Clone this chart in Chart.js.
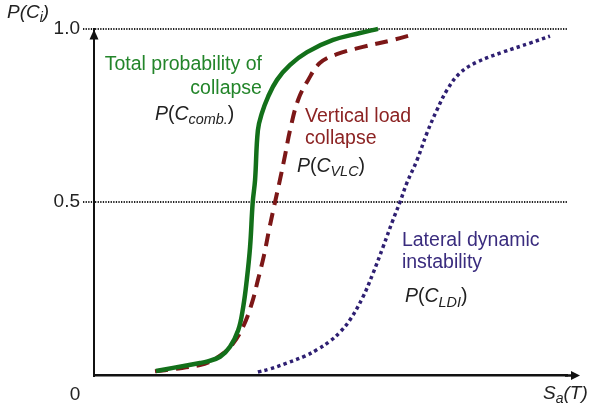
<!DOCTYPE html>
<html>
<head>
<meta charset="utf-8">
<script src="https://cdn.jsdelivr.net/npm/chart.js@4.4.1/dist/chart.umd.min.js"></script>
<style>
  html, body { margin: 0; padding: 0; background: #ffffff; }
  #wrap { width: 593px; height: 411px; }
</style>
</head>
<body>
<div id="wrap"><canvas id="c" width="593" height="411"></canvas></div>
<script>
// Fragility curves: probability of collapse vs spectral acceleration Sa(T)
const sa_total = [0.262, 0.334, 0.448, 0.477, 0.533, 0.575, 0.610, 0.631, 0.646, 0.660, 0.671, 0.681, 0.693, 0.710, 0.736, 0.774, 0.829, 0.901, 1.011, 1.125, 1.201];
const p_total  = [0.013, 0.022, 0.036, 0.040, 0.054, 0.083, 0.131, 0.198, 0.275, 0.371, 0.498, 0.563, 0.707, 0.756, 0.803, 0.852, 0.895, 0.932, 0.967, 0.987, 0.999];

const sa_vlc = [0.258, 0.342, 0.448, 0.490, 0.545, 0.588, 0.630, 0.668, 0.693, 0.719, 0.740, 0.761, 0.786, 0.808, 0.829, 0.863, 0.905, 0.956, 1.027, 1.137, 1.252, 1.336];
const p_vlc  = [0.012, 0.019, 0.030, 0.040, 0.063, 0.092, 0.140, 0.209, 0.275, 0.347, 0.419, 0.486, 0.563, 0.635, 0.707, 0.794, 0.851, 0.901, 0.926, 0.947, 0.965, 0.980];

const sa_ldi = [0.693, 0.744, 0.816, 0.892, 0.947, 0.998, 1.040, 1.082, 1.137, 1.180, 1.222, 1.264, 1.294, 1.323, 1.366, 1.408, 1.450, 1.493, 1.548, 1.619, 1.729, 1.844, 1.928];
const p_ldi  = [0.010, 0.019, 0.036, 0.056, 0.076, 0.099, 0.125, 0.160, 0.226, 0.295, 0.370, 0.448, 0.500, 0.555, 0.621, 0.699, 0.765, 0.823, 0.872, 0.903, 0.932, 0.958, 0.978];

const yTicks = [0, 0.5, 1.0];
const yTickLabels = ['0', '0.5', '1.0'];

const toPoints = (xs, ys) => xs.map((v, i) => ({ x: v, y: ys[i] }));

const FONT = '"Liberation Sans", Arial, Helvetica, sans-serif';

// draw a run of text pieces (italic / subscript) starting at x, vertically centred on y
function richText(ctx, pieces, x, y, size, color) {
  ctx.fillStyle = color;
  ctx.textBaseline = 'middle';
  ctx.textAlign = 'left';
  let cx = x;
  for (const p of pieces) {
    const s = p.sub ? size * 0.74 : size;
    ctx.font = (p.it ? 'italic ' : '') + s + 'px ' + FONT;
    ctx.fillText(p.t, cx, y + (p.sub ? size * 0.28 : 0));
    cx += ctx.measureText(p.t).width;
  }
}

function curveLabel(sub) {
  return [
    { t: 'P', it: true }, { t: '(' }, { t: 'C', it: true },
    { t: sub, it: true, sub: true }, { t: ')' }
  ];
}

const labels = [
  { lines: ['Total probability of', 'collapse'], x: 0.710, y: [0.895, 0.826], align: 'right', color: '#23852a' },
  { rich: curveLabel('comb.'), x: 0.258, y: 0.751 },
  { lines: ['Vertical load', 'collapse'], x: 0.892, y: [0.745, 0.684], align: 'left', color: '#8c2323' },
  { rich: curveLabel('VLC'), x: 0.858, y: 0.601 },
  { lines: ['Lateral dynamic', 'instability'], x: 1.302, y: [0.390, 0.324], align: 'left', color: '#3a2c7e' },
  { rich: curveLabel('LDI'), x: 1.315, y: 0.226 }
];

const decorations = {
  id: 'decorations',
  afterDraw(chart) {
    const { ctx, chartArea, scales: { x, y } } = chart;
    ctx.save();
    // axis arrowheads
    ctx.fillStyle = '#111';
    ctx.strokeStyle = '#111';
    const ax = chartArea.left;
    const ay = chartArea.top + 1;
    ctx.beginPath();
    ctx.moveTo(ax, ay); ctx.lineTo(ax - 4.5, ay + 10); ctx.lineTo(ax + 4.5, ay + 10); ctx.closePath();
    ctx.fill();
    const by = chartArea.bottom;
    ctx.lineWidth = 2.5;
    ctx.beginPath(); ctx.moveTo(chartArea.right - 2, by); ctx.lineTo(chartArea.right + 7, by); ctx.stroke();
    ctx.beginPath();
    ctx.moveTo(chartArea.right + 13, by); ctx.lineTo(chartArea.right + 4, by - 4.5); ctx.lineTo(chartArea.right + 4, by + 4.5); ctx.closePath();
    ctx.fill();

    // zero label under the origin
    ctx.font = '19px ' + FONT;
    ctx.fillStyle = '#222';
    ctx.textAlign = 'center';
    ctx.textBaseline = 'middle';
    ctx.fillText(yTickLabels[0], chartArea.left - 19, by + 19);

    // axis titles
    richText(ctx, [{ t: 'P', it: true }, { t: '(C', it: true }, { t: 'i', it: true, sub: true }, { t: ')', it: true }],
      7, 13, 19, '#222');
    richText(ctx, [{ t: 'S', it: true }, { t: 'a', it: true, sub: true }, { t: '(T)', it: true }],
      chartArea.right - 24, by + 18, 19, '#222');

    // curve annotations
    for (const l of labels) {
      const px = x.getPixelForValue(l.x);
      if (l.lines) {
        ctx.font = '19.5px ' + FONT;
        ctx.fillStyle = l.color;
        ctx.textAlign = l.align;
        ctx.textBaseline = 'middle';
        l.lines.forEach((t, i) => ctx.fillText(t, px, y.getPixelForValue(l.y[i])));
      } else {
        richText(ctx, l.rich, px, y.getPixelForValue(l.y), 19.5, '#222');
      }
    }
    ctx.restore();
  }
};

new Chart(document.getElementById('c'), {
  type: 'line',
  data: {
    datasets: [
      {
        label: 'P(C comb.)',
        data: toPoints(sa_total, p_total),
        borderColor: '#13701a',
        borderWidth: 4.5,
        tension: 0.4,
        pointRadius: 0,
        clip: false
      },
      {
        label: 'P(C VLC)',
        data: toPoints(sa_vlc, p_vlc),
        borderColor: '#7c1717',
        borderWidth: 4,
        borderDash: [13, 8],
        tension: 0.4,
        pointRadius: 0,
        clip: false
      },
      {
        label: 'P(C LDI)',
        data: toPoints(sa_ldi, p_ldi),
        borderColor: '#2e1f72',
        borderWidth: 3.5,
        borderDash: [3.4, 3.3],
        tension: 0.4,
        pointRadius: 0,
        clip: false
      }
    ]
  },
  options: {
    responsive: false,
    animation: false,
    events: [],
    layout: { padding: { top: 28.5, right: 26, left: 0, bottom: 0 } },
    plugins: { legend: { display: false }, tooltip: { enabled: false } },
    scales: {
      x: {
        type: 'linear',
        min: 0,
        max: 2.0,
        ticks: { display: false },
        grid: { display: false, drawTicks: false },
        border: { display: true, color: '#111', width: 2.5 },
        afterFit(scale) { scale.height = 35.5; }
      },
      y: {
        type: 'linear',
        min: 0,
        max: 1.0,
        afterBuildTicks(scale) { scale.ticks = yTicks.map(v => ({ value: v })); },
        ticks: {
          padding: 3,
          color: '#222',
          font: { family: FONT, size: 19 },
          callback: (v) => { const i = yTicks.indexOf(v); return i > 0 ? yTickLabels[i] : ''; }
        },
        grid: {
          color: (c) => (c.tick && c.tick.value === 0) ? 'rgba(0,0,0,0)' : '#222',
          lineWidth: 2,
          tickBorderDash: [1.3, 1.3],
          tickLength: 11,
          drawTicks: true
        },
        border: { display: true, color: '#111', width: 2, dash: [1.3, 1.3] },
        afterFit(scale) { scale.width = 94; }
      }
    }
  },
  plugins: [decorations]
});
</script>
</body>
</html>
